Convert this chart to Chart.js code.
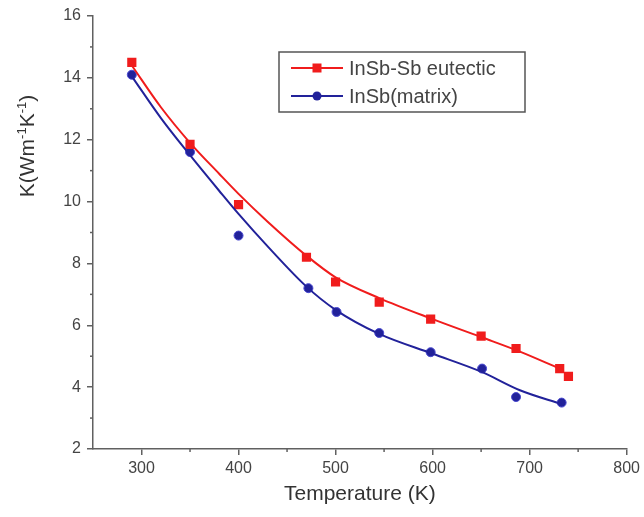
<!DOCTYPE html>
<html>
<head>
<meta charset="utf-8">
<script src="https://cdn.jsdelivr.net/npm/chart.js@4"></script>
<style>
  body { margin: 0; background: #fff; }
</style>
</head>
<body>
<canvas id="kChart" width="644" height="517"></canvas>
<script>
// measured points
const eutecticT = [290, 350, 400, 470, 500, 545, 598, 650, 686, 731, 740];
const eutecticK = [14.5, 11.85, 9.9, 8.2, 7.4, 6.75, 6.2, 5.65, 5.25, 4.6, 4.35];
const matrixT = [290, 350, 400, 472, 501, 545, 598, 651, 686, 733];
const matrixK = [14.1, 11.6, 8.9, 7.2, 6.43, 5.75, 5.13, 4.6, 3.68, 3.5];

// fitted curves
const eutecticFitT = [290, 320, 350, 380, 400, 430, 470, 500, 545, 600, 650, 690, 731];
const eutecticFitK = [14.4, 13.05, 11.9, 10.9, 10.25, 9.35, 8.25, 7.55, 6.88, 6.2, 5.62, 5.15, 4.6];
const matrixFitT = [290, 320, 350, 380, 400, 430, 470, 500, 545, 600, 650, 690, 733];
const matrixFitK = [14.05, 12.7, 11.5, 10.35, 9.6, 8.55, 7.25, 6.5, 5.72, 5.08, 4.5, 3.9, 3.45];

const xTicks = [300, 400, 500, 600, 700, 800];
const yTicks = [2, 4, 6, 8, 10, 12, 14, 16];

const red = '#f01c1c';
const blue = '#22229a';
const axisColor = '#606060';
const fontFamily = '"Liberation Sans", Arial, sans-serif';

const pts = (xs, ys) => xs.map((x, i) => ({ x: x, y: ys[i] }));

// minor ticks, y title and legend box
const extras = {
    id: 'extras',
    afterDraw(chart) {
        const c = chart.ctx;
        const xs = chart.scales.x, ys = chart.scales.y;
        const a = chart.chartArea;
        c.save();
        c.strokeStyle = axisColor;
        c.lineWidth = 1.5;
        for (let v = 350; v < 800; v += 100) {
            const px = xs.getPixelForValue(v);
            c.beginPath(); c.moveTo(px, a.bottom); c.lineTo(px, a.bottom + 3); c.stroke();
        }
        for (let v = 3; v < 16; v += 2) {
            const py = ys.getPixelForValue(v);
            c.beginPath(); c.moveTo(a.left, py); c.lineTo(a.left - 3, py); c.stroke();
        }

        // y axis title with superscripts
        const parts = [
            { t: 'K(Wm', sup: false },
            { t: '-1', sup: true },
            { t: 'K', sup: false },
            { t: '-1', sup: true },
            { t: ')', sup: false }
        ];
        const big = '21px ' + fontFamily, small = '13px ' + fontFamily;
        let total = 0;
        parts.forEach(p => { c.font = p.sup ? small : big; p.w = c.measureText(p.t).width; total += p.w; });
        c.translate(28, 146);
        c.rotate(-Math.PI / 2);
        c.fillStyle = '#333';
        c.textBaseline = 'middle';
        let x = -total / 2;
        parts.forEach(p => {
            c.font = p.sup ? small : big;
            c.fillText(p.t, x, p.sup ? -6 : 0);
            x += p.w;
        });
        c.setTransform(1, 0, 0, 1, 0, 0);

        // legend
        const lx = 279, ly = 52, lw = 246, lh = 60;
        c.strokeStyle = '#555';
        c.lineWidth = 1.5;
        c.strokeRect(lx, ly, lw, lh);
        const rows = [
            { label: 'InSb-Sb eutectic', color: red, shape: 'rect' },
            { label: 'InSb(matrix)', color: blue, shape: 'circle' }
        ];
        c.font = '20px ' + fontFamily;
        c.textBaseline = 'middle';
        rows.forEach((r, i) => {
            const y = ly + 16 + i * 28;
            c.strokeStyle = r.color;
            c.lineWidth = 2;
            c.beginPath(); c.moveTo(lx + 12, y); c.lineTo(lx + 64, y); c.stroke();
            c.fillStyle = r.color;
            if (r.shape === 'rect') {
                c.fillRect(lx + 33.5, y - 4.5, 9, 9);
            } else {
                c.beginPath(); c.arc(lx + 38, y, 4.5, 0, Math.PI * 2); c.fill();
            }
            c.fillStyle = '#444';
            c.fillText(r.label, lx + 70, y + 1);
        });
        c.restore();
    }
};

const ctx = document.getElementById('kChart').getContext('2d');
const kChart = new Chart(ctx, {
    type: 'scatter',
    data: {
        datasets: [
            {
                label: 'InSb-Sb eutectic fit',
                data: pts(eutecticFitT, eutecticFitK),
                showLine: true,
                borderColor: red,
                borderWidth: 2,
                pointRadius: 0,
                cubicInterpolationMode: 'monotone'
            },
            {
                label: 'InSb(matrix) fit',
                data: pts(matrixFitT, matrixFitK),
                showLine: true,
                borderColor: blue,
                borderWidth: 2,
                pointRadius: 0,
                cubicInterpolationMode: 'monotone'
            },
            {
                label: 'InSb-Sb eutectic',
                data: pts(eutecticT, eutecticK),
                pointStyle: 'rect',
                pointRadius: 6.5,
                backgroundColor: red,
                borderColor: red,
                borderWidth: 0
            },
            {
                label: 'InSb(matrix)',
                data: pts(matrixT, matrixK),
                pointStyle: 'circle',
                pointRadius: 4.5,
                backgroundColor: blue,
                borderColor: '#4a4ad0',
                borderWidth: 1
            }
        ]
    },
    options: {
        responsive: false,
        animation: false,
        layout: { padding: { top: 16, right: 16, left: 0, bottom: 0 } },
        plugins: {
            legend: { display: false },
            tooltip: { enabled: false }
        },
        scales: {
            x: {
                type: 'linear',
                min: 250,
                max: 800,
                afterBuildTicks: s => { s.ticks = xTicks.map(v => ({ value: v })); },
                afterFit: s => { s.height = 68; },
                border: { color: axisColor, width: 1.5 },
                grid: { drawOnChartArea: false, tickLength: 6, color: axisColor, lineWidth: 1.5 },
                ticks: {
                    color: '#444',
                    padding: 4,
                    font: { family: fontFamily, size: 16 }
                },
                title: {
                    display: true,
                    text: 'Temperature (K)',
                    color: '#333',
                    padding: { top: 0, bottom: 10 },
                    font: { family: fontFamily, size: 21 }
                }
            },
            y: {
                min: 2,
                max: 16,
                afterBuildTicks: s => { s.ticks = yTicks.map(v => ({ value: v })); },
                afterFit: s => { s.width = 93; },
                border: { color: axisColor, width: 1.5 },
                grid: { drawOnChartArea: false, tickLength: 6, color: axisColor, lineWidth: 1.5 },
                ticks: {
                    color: '#444',
                    padding: 6,
                    font: { family: fontFamily, size: 16 }
                }
            }
        }
    },
    plugins: [extras]
});
</script>
</body>
</html>
